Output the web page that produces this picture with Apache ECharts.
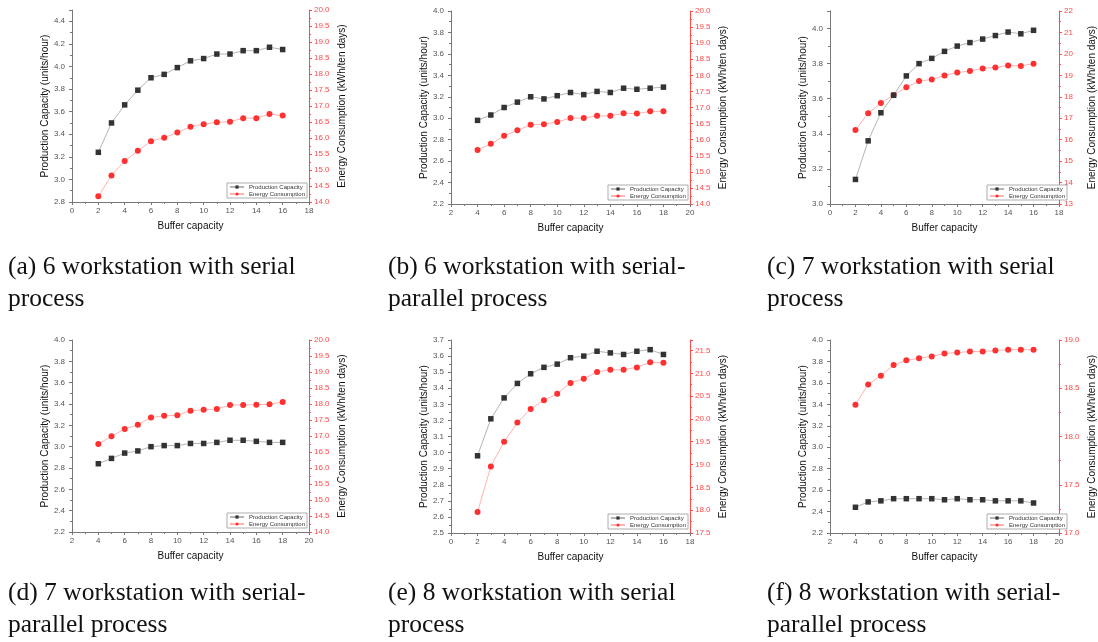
<!DOCTYPE html>
<html><head><meta charset="utf-8">
<script src="https://cdn.jsdelivr.net/npm/echarts@6/dist/echarts.min.js"></script>
<style>html,body{margin:0;padding:0;background:#fff}#c{width:1098px;height:642px}</style>
</head><body><div id="c"></div>
<script>
// ---- data ----
const xA = [2,3,4,5,6,7,8,9,10,11,12,13,14,15,16];
const pcA = [3.24,3.50,3.66,3.79,3.90,3.93,3.99,4.05,4.07,4.11,4.11,4.14,4.14,4.17,4.15];
const ecA = [14.18,14.83,15.28,15.60,15.90,16.01,16.17,16.35,16.43,16.49,16.51,16.62,16.62,16.75,16.70];

const xB = [4,5,6,7,8,9,10,11,12,13,14,15,16,17,18];
const pcB = [2.98,3.03,3.10,3.15,3.20,3.18,3.21,3.24,3.22,3.25,3.24,3.28,3.27,3.28,3.29];
const ecB = [15.68,15.87,16.12,16.29,16.46,16.48,16.55,16.67,16.67,16.74,16.74,16.82,16.81,16.88,16.88];

const xC = [2,3,4,5,6,7,8,9,10,11,12,13,14,15,16];
const pcC = [3.14,3.36,3.52,3.62,3.73,3.80,3.83,3.87,3.90,3.92,3.94,3.96,3.98,3.97,3.99];
const ecC = [16.45,17.23,17.71,18.08,18.44,18.73,18.81,18.99,19.13,19.20,19.32,19.37,19.46,19.44,19.54];

const xD = [4,5,6,7,8,9,10,11,12,13,14,15,16,17,18];
const pcD = [2.84,2.89,2.94,2.96,3.00,3.01,3.01,3.03,3.03,3.04,3.06,3.06,3.05,3.04,3.04];
const ecD = [16.75,16.99,17.22,17.35,17.58,17.63,17.65,17.79,17.82,17.84,17.97,17.97,17.98,17.99,18.06];

const xE = [2,3,4,5,6,7,8,9,10,11,12,13,14,15,16];
const pcE = [2.98,3.21,3.34,3.43,3.49,3.53,3.55,3.59,3.60,3.63,3.62,3.61,3.63,3.64,3.61];
const ecE = [17.96,18.96,19.50,19.92,20.22,20.41,20.55,20.79,20.88,21.03,21.08,21.08,21.13,21.24,21.23];

const xF = [4,5,6,7,8,9,10,11,12,13,14,15,16,17,18];
const pcF = [2.44,2.49,2.50,2.52,2.52,2.52,2.52,2.51,2.52,2.51,2.51,2.50,2.50,2.50,2.48];
const ecF = [18.33,18.54,18.63,18.74,18.79,18.81,18.83,18.86,18.87,18.88,18.88,18.89,18.90,18.90,18.90];

const captions = [
  ["(a) 6 workstation with serial", "process"],
  ["(b) 6 workstation with serial-", "parallel process"],
  ["(c) 7 workstation with serial", "process"],
  ["(d) 7 workstation with serial-", "parallel process"],
  ["(e) 8 workstation with serial", "process"],
  ["(f) 8 workstation with serial-", "parallel process"]
];
const xLabel = "Buffer capacity";
const yLeftName = "Production Capacity (units/hour)";
const yRightName = "Energy Consumption (kWh/ten days)";
const s1Name = "Production Capacity";
const s2Name = "Energy Consumption";

// ---- layout (positions/styles) ----
const panels = [
  {x: xA, pc: pcA, ec: ecA, g:{left:72, top:10, width:237, height:192}, xr:[0,18], yl:[2.8,4.5,0.2], yr:[14,20,0.5], cap:[8,251]},
  {x: xB, pc: pcB, ec: ecB, g:{left:451, top:11, width:239, height:193}, xr:[2,20], yl:[2.2,4.0,0.2], yr:[14,20,0.5], cap:[388,251]},
  {x: xC, pc: pcC, ec: ecC, g:{left:830, top:11, width:239, height:193}, xr:[0,18], yl:[3.0,4.1,0.2], yr:[13,22,1], cap:[767,251]},
  {x: xD, pc: pcD, ec: ecD, g:{left:72, top:340, width:237, height:192}, xr:[2,20], yl:[2.2,4.0,0.2], yr:[14,20,0.5], cap:[8,577]},
  {x: xE, pc: pcE, ec: ecE, g:{left:451, top:340, width:239, height:193}, xr:[0,18], yl:[2.5,3.7,0.1], yr:[17.5,21.73,0.5], cap:[388,577]},
  {x: xF, pc: pcF, ec: ecF, g:{left:830, top:340, width:239, height:193}, xr:[2,20], yl:[2.2,4.0,0.2], yr:[17.0,19.0,0.5], cap:[767,577]}
];

const grey = '#555';
const red = '#ff4a4a';
const option = {animation:false, backgroundColor:'#fff', grid:[], xAxis:[], yAxis:[], series:[], legend:[], graphic:[]};

function isMult(v, step){ const r = v/step; return Math.abs(r - Math.round(r)) < 1e-6; }

panels.forEach((p, i) => {
  option.grid.push(Object.assign({containLabel:false}, p.g));
  option.xAxis.push({
    type:'value', gridIndex:i, min:p.xr[0], max:p.xr[1], interval:2,
    name:xLabel, nameLocation:'middle', nameGap:19,
    nameTextStyle:{fontFamily:'Arial, Liberation Sans', fontSize:10, color:'#111'},
    axisLine:{onZero:false, lineStyle:{color:'#777', width:1}},
    axisTick:{show:true, length:3, lineStyle:{color:'#777'}},
    minorTick:{show:true, splitNumber:2, length:2, lineStyle:{color:'#777'}},
    axisLabel:{fontSize:8, color:grey, margin:5, fontFamily:'Arial, Liberation Sans'},
    splitLine:{show:false}
  });
  option.yAxis.push({
    type:'value', gridIndex:i, position:'left', min:p.yl[0], max:p.yl[1], interval:p.yl[2],
    name:yLeftName, nameLocation:'middle', nameGap:22, nameRotate:90,
    nameTextStyle:{fontFamily:'Arial, Liberation Sans', fontSize:10, color:'#111'},
    axisLine:{show:true, onZero:false, lineStyle:{color:'#777', width:1}},
    axisTick:{show:true, length:3, lineStyle:{color:'#777'}},
    minorTick:{show:true, splitNumber:2, length:2, lineStyle:{color:'#777'}},
    axisLabel:{fontSize:8, color:grey, margin:7, fontFamily:'Arial, Liberation Sans',
      formatter:(v)=> isMult(v - p.yl[0], p.yl[2]) && v <= p.yl[1]+1e-9 ? v.toFixed(1) : ''},
    splitLine:{show:false}
  });
  option.yAxis.push({
    type:'value', gridIndex:i, position:'right', min:p.yr[0], max:p.yr[1], interval:p.yr[2],
    name:yRightName, nameLocation:'middle', nameGap:28, nameRotate:90,
    nameTextStyle:{fontFamily:'Arial, Liberation Sans', fontSize:10, color:'#111'},
    axisLine:{show:true, onZero:false, lineStyle:{color:red, width:1}},
    axisTick:{show:true, length:3, lineStyle:{color:red}},
    minorTick:{show:true, splitNumber:2, length:2, lineStyle:{color:red}},
    axisLabel:{fontSize:8, color:red, margin:5, fontFamily:'Arial, Liberation Sans',
      formatter:(v)=> isMult(v - p.yr[0], p.yr[2]) ? (p.yr[2] >= 1 ? v.toFixed(0) : v.toFixed(1)) : ''},
    splitLine:{show:false}
  });
  option.series.push({
    type:'line', name:s1Name, xAxisIndex:i, yAxisIndex:2*i,
    data:p.x.map((x,k)=>[x,p.pc[k]]),
    symbol:'rect', symbolSize:5.5, itemStyle:{color:'#333'},
    lineStyle:{color:'#b5b5b5', width:1}, z:3
  });
  option.series.push({
    type:'line', name:s2Name, xAxisIndex:i, yAxisIndex:2*i+1,
    data:p.x.map((x,k)=>[x,p.ec[k]]),
    symbol:'circle', symbolSize:6, itemStyle:{color:'#ff3030'},
    lineStyle:{color:'#ffb3b3', width:1}, z:2
  });
  option.legend.push({
    data:[s1Name, s2Name], orient:'vertical',
    left:p.g.left + p.g.width - 82, top:p.g.top + p.g.height - 19,
    itemWidth:14, itemHeight:4, itemGap:1, padding:[1,2,1,2],
    borderColor:'#999', borderWidth:0.8, backgroundColor:'#fff',
    textStyle:{fontSize:6, color:'#333', fontFamily:'Arial, Liberation Sans'},
    selectedMode:false
  });
  option.graphic.push({
    type:'text', left:p.cap[0], top:p.cap[1],
    style:{text:captions[i].join('\n'), fontFamily:'Liberation Serif, Times New Roman, serif',
      fontSize:25.5, lineHeight:32, fill:'#111'}
  });
});

const chart = echarts.init(document.getElementById('c'), null, {renderer:'canvas'});
chart.setOption(option);
</script></body></html>
